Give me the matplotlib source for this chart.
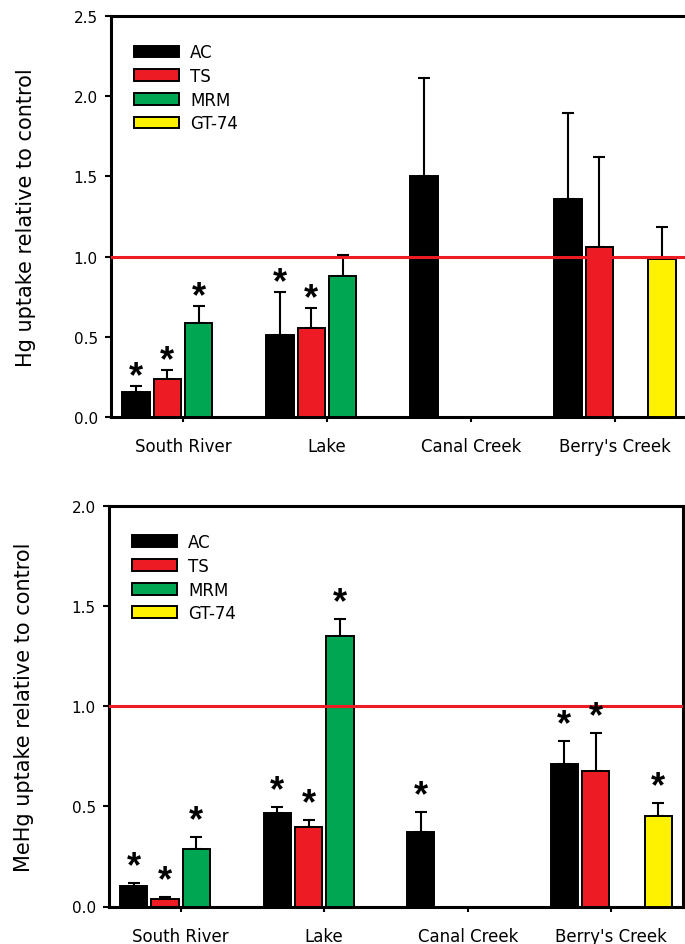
import numpy as np
import matplotlib
matplotlib.use("Agg")
import matplotlib.pyplot as plt
from matplotlib.patches import Patch
from matplotlib.ticker import FormatStrFormatter

nan = np.nan

# ---------------- data ----------------
sites = ["South River", "Lake", "Canal Creek", "Berry's Creek"]
treatments = ["AC", "TS", "MRM", "GT-74"]
colors = ["#000000", "#ed1c24", "#00a651", "#fff200"]

# Hg uptake relative to control
hg_ac = [0.155, 0.513, 1.502, 1.359]
hg_ts = [0.237, 0.553, nan, 1.058]
hg_mrm = [0.586, 0.876, nan, nan]
hg_gt = [nan, nan, nan, 0.983]
hg_ac_err = [0.040, 0.264, 0.610, 0.536]
hg_ts_err = [0.056, 0.127, nan, 0.563]
hg_mrm_err = [0.104, 0.136, nan, nan]
hg_gt_err = [nan, nan, nan, 0.202]
hg_ac_sig = [True, True, False, False]
hg_ts_sig = [True, True, False, False]
hg_mrm_sig = [True, False, False, False]
hg_gt_sig = [False, False, False, False]

# MeHg uptake relative to control
mehg_ac = [0.101, 0.466, 0.371, 0.711]
mehg_ts = [0.038, 0.398, nan, 0.676]
mehg_mrm = [0.286, 1.349, nan, nan]
mehg_gt = [nan, nan, nan, 0.451]
mehg_ac_err = [0.015, 0.031, 0.103, 0.117]
mehg_ts_err = [0.010, 0.033, nan, 0.190]
mehg_mrm_err = [0.060, 0.089, nan, nan]
mehg_gt_err = [nan, nan, nan, 0.068]
mehg_ac_sig = [True, True, True, True]
mehg_ts_sig = [True, True, False, True]
mehg_mrm_sig = [True, True, False, False]
mehg_gt_sig = [False, False, False, True]

hg_ticks = [0.0, 0.5, 1.0, 1.5, 2.0, 2.5]
mehg_ticks = [0.0, 0.5, 1.0, 1.5, 2.0]
reference_level = 1.0

# ---------------- style ----------------
plt.rcParams["font.family"] = ["DejaVu Sans"]
fig = plt.figure(figsize=(6.85, 9.45), dpi=100)
W, H = 685.0, 945.0

def px_axes(left, right, top, bottom):
    return fig.add_axes([left / W, 1 - bottom / H, (right - left) / W, (bottom - top) / H])

ax1 = px_axes(111, 687, 17, 418)
ax2 = px_axes(109, 683, 507, 907.5)

slot = 0.218
bar_w = 0.19
x0 = np.arange(len(sites))

def draw_panel(ax, series, errs, sigs, ymax, yticks, ylabel, star_off):
    for k, (vals, err, sig) in enumerate(zip(series, errs, sigs)):
        vals = np.array(vals, float)
        err = np.array(err, float)
        m = ~np.isnan(vals)
        xs = x0 + (k - 1.5) * slot
        ax.bar(xs[m], vals[m], width=bar_w, color=colors[k], edgecolor="black",
               linewidth=1.4, zorder=3)
        ax.errorbar(xs[m], vals[m], yerr=[np.zeros(m.sum()), err[m]], fmt="none",
                    ecolor="black", elinewidth=1.5, capsize=4.5, capthick=1.5, zorder=2)
        for xi, v, e, s in zip(xs, vals, err, sig):
            if s and not np.isnan(v):
                ax.annotate("*", xy=(xi, v + e), xytext=(0, star_off),
                            textcoords="offset points", ha="center", va="baseline",
                            fontsize=26, fontweight="bold", family="Liberation Sans",
                            zorder=6)
    ax.axhline(reference_level, color="#ed1c24", lw=2.2, zorder=5)
    ax.set_xlim(-0.5, 3.5)
    ax.set_ylim(0, ymax)
    ax.set_yticks(yticks)
    ax.yaxis.set_major_formatter(FormatStrFormatter("%.1f"))
    ax.set_xticks(x0)
    ax.set_xticklabels(sites)
    ax.tick_params(axis="y", direction="out", length=4.5, width=1.5, labelsize=11, pad=5)
    ax.tick_params(axis="x", direction="out", length=3.5, width=1.5, labelsize=12, pad=11)
    for sp in ax.spines.values():
        sp.set_linewidth(2.2)
    ax.set_ylabel(ylabel, fontsize=15, labelpad=27)
    handles = [Patch(facecolor=c, edgecolor="black", linewidth=1.4) for c in colors]
    ax.legend(handles, treatments, loc="upper left", bbox_to_anchor=(0.04, 0.932),
              frameon=False, fontsize=12, handlelength=2.7, handleheight=0.72,
              labelspacing=0.34, handletextpad=0.66, borderpad=0, borderaxespad=0)

draw_panel(ax1, [hg_ac, hg_ts, hg_mrm, hg_gt],
           [hg_ac_err, hg_ts_err, hg_mrm_err, hg_gt_err],
           [hg_ac_sig, hg_ts_sig, hg_mrm_sig, hg_gt_sig],
           2.5, hg_ticks, "Hg uptake relative to control", 0)
draw_panel(ax2, [mehg_ac, mehg_ts, mehg_mrm, mehg_gt],
           [mehg_ac_err, mehg_ts_err, mehg_mrm_err, mehg_gt_err],
           [mehg_ac_sig, mehg_ts_sig, mehg_mrm_sig, mehg_gt_sig],
           2.0, mehg_ticks, "MeHg uptake relative to control", 4.8)

fig.savefig("out.png", dpi=100, facecolor="white")
